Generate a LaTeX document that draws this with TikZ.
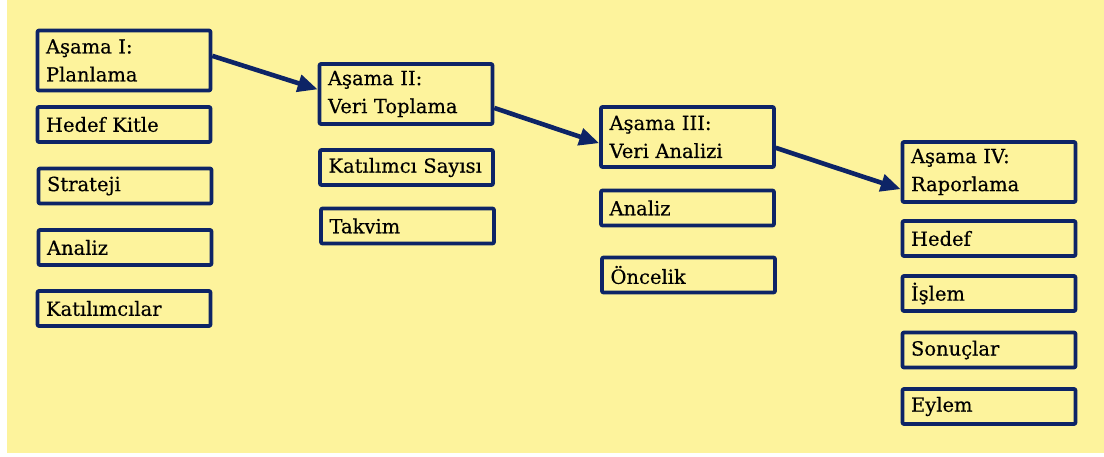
\documentclass[tikz,border=0pt]{standalone}
\usepackage{fontspec}
\setmainfont{DejaVu Serif}
\newfontfamily\kutufont[FakeBold=0.4]{DejaVu Serif}
\usepackage{xcolor}
\usetikzlibrary{arrows.meta}
\definecolor{sari}{RGB}{253,243,156}
\definecolor{lacivert}{RGB}{13,36,102}

\begin{document}
\begin{tikzpicture}[x=1pt,y=-1pt,line cap=round,line join=round,>={Triangle[length=20pt,width=17pt]},
  kutu/.style={draw=lacivert,line width=3.6pt,rounded corners=1pt,minimum width=173pt,minimum height=35pt,
    text width=156pt,inner xsep=8.5pt,inner ysep=0pt,align=left,font=\kutufont\fontsize{19.5}{28}\selectfont},
  baslik/.style={kutu,minimum height=60pt},
  ok/.style={->,draw=lacivert,line width=4.6pt,line cap=butt}]
	\useasboundingbox (0,0) rectangle (1104,457);
	\fill[sari] (7,0) rectangle (1104,453);
	% Asama I
	\node[baslik] (a1) at (124,60.5) {Aşama I:\\Planlama};
	\node[kutu] (hedefkitle) at (124,124.5) {Hedef Kitle};
	\node[kutu] (strateji) at (125,186) {Strateji};
	\node[kutu] (analizI) at (125,247.5) {Analiz};
	\node[kutu] (katilimcilar) at (124,308.5) {Katılımcılar};
	% Asama II
	\node[baslik] (a2) at (406,94) {Aşama II:\\Veri Toplama};
	\node[kutu] (sayi) at (406.5,167.5) {Katılımcı Sayısı};
	\node[kutu] (takvim) at (407.5,226) {Takvim};
	% Asama III
	\node[baslik] (a3) at (687.5,137) {Aşama III:\\Veri Analizi};
	\node[kutu] (analizIII) at (687.5,208) {Analiz};
	\node[kutu] (oncelik) at (688.5,275) {Öncelik};
	% Asama IV
	\node[baslik] (a4) at (989,172) {Aşama IV:\\Raporlama};
	\node[kutu] (hedef) at (989,238.5) {Hedef};
	\node[kutu] (islem) at (989,293.5) {İşlem};
	\node[kutu] (sonuclar) at (989,350) {Sonuçlar};
	\node[kutu] (eylem) at (989,406.5) {Eylem};
	% oklar
	\draw[ok] (a1.3.6) -- (a2.177.4);
	\draw[ok] (a2.-9.2) -- (a3.184.6);
	\draw[ok] (a3.-7.2) -- (a4.191.8);
\end{tikzpicture}
\end{document}
